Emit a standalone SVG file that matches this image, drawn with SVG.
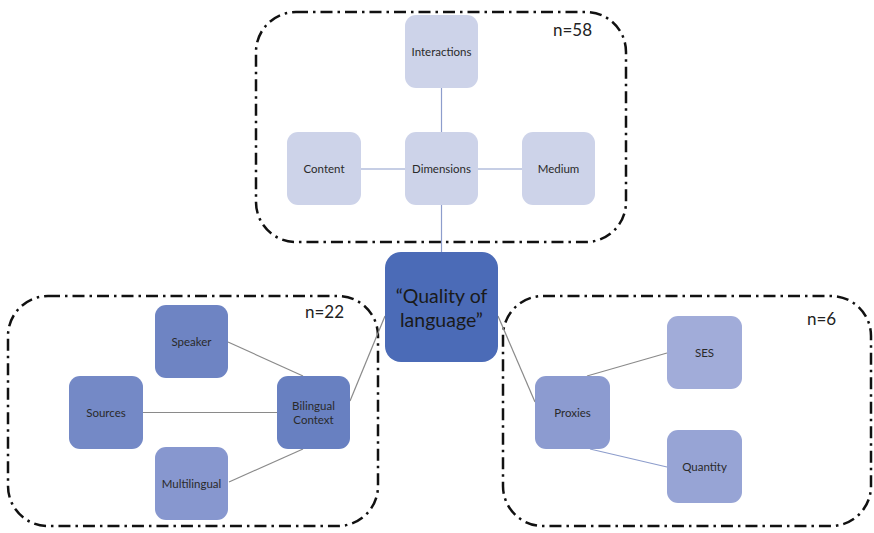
<svg xmlns="http://www.w3.org/2000/svg" width="874" height="533" viewBox="0 0 874 533">
<style>
.grp{fill:none;stroke:#111;stroke-width:2.5;stroke-dasharray:12 5 2.5 5}
.node{stroke:none}
.lbl{font-family:Lato,"Liberation Sans",sans-serif;font-size:11.5px;fill:#2a2a2a;text-anchor:middle}
.n{font-family:Lato,"Liberation Sans",sans-serif;font-size:17px;fill:#222}
.q{font-family:Lato,"Liberation Sans",sans-serif;font-size:19.5px;fill:#1a1a1a;text-anchor:middle}
.c{fill:none;stroke-width:1.2}
.g{stroke:#8a8a8a}
.b{stroke:#8d9dcc}
</style>
<rect width="874" height="533" fill="#fff"/>
<g id="groups">
<rect class="grp" x="256" y="12" width="370" height="230" rx="40"/>
<rect class="grp" x="8" y="296" width="370" height="230" rx="40"/>
<rect class="grp" x="503" y="296" width="368" height="230" rx="40"/>
<text class="n" x="553" y="36">n=58</text>
<text class="n" x="305" y="318">n=22</text>
<text class="n" x="807" y="325">n=6</text>
</g>
<g id="connectors">
<line class="c b" x1="441.5" y1="88" x2="441.5" y2="132"/>
<line class="c b" x1="361" y1="169" x2="405" y2="169"/>
<line class="c b" x1="478" y1="169" x2="522" y2="169"/>
<line class="c b" x1="441.5" y1="205" x2="441.5" y2="252"/>
<line class="c g" x1="228" y1="342" x2="303" y2="376"/>
<line class="c g" x1="143" y1="412.5" x2="277" y2="412.5"/>
<line class="c g" x1="229" y1="482" x2="303" y2="449"/>
<line class="c g" x1="350" y1="401" x2="385" y2="316"/>
<line class="c g" x1="498" y1="316" x2="535" y2="402"/>
<line class="c g" x1="587" y1="376" x2="667" y2="353"/>
<line class="c b" x1="590" y1="449" x2="667" y2="467"/>
</g>
<g id="interactions"><rect class="node" x="405" y="15" width="73" height="73" rx="11" fill="#cdd3e9"/><text class="lbl" x="441.5" y="55.5">Interactions</text></g>
<g id="content"><rect class="node" x="287" y="132" width="74" height="73" rx="11" fill="#cdd3e9"/><text class="lbl" x="324" y="172.5">Content</text></g>
<g id="dimensions"><rect class="node" x="405" y="132" width="73" height="73" rx="11" fill="#cdd3e9"/><text class="lbl" x="441.5" y="172.5">Dimensions</text></g>
<g id="medium"><rect class="node" x="522" y="132" width="73" height="73" rx="11" fill="#cdd3e9"/><text class="lbl" x="558.5" y="172.5">Medium</text></g>
<g id="quality"><rect class="node" x="385" y="252" width="113" height="110" rx="16" fill="#4b6bb7"/><text class="q" x="441.5" y="303">“Quality of</text><text class="q" x="441.5" y="327">language”</text></g>
<g id="speaker"><rect class="node" x="155" y="305" width="73" height="73" rx="11" fill="#6e84c3"/><text class="lbl" x="191.5" y="345.5">Speaker</text></g>
<g id="sources"><rect class="node" x="69" y="376" width="74" height="73" rx="11" fill="#7489c6"/><text class="lbl" x="106" y="416.5">Sources</text></g>
<g id="bilingual"><rect class="node" x="277" y="376" width="73" height="73" rx="11" fill="#6880c1"/><text class="lbl" x="313.5" y="410">Bilingual</text><text class="lbl" x="313.5" y="424">Context</text></g>
<g id="multilingual"><rect class="node" x="155" y="447" width="73" height="73" rx="11" fill="#8797cf"/><text class="lbl" x="191.5" y="487.5">Multilingual</text></g>
<g id="proxies"><rect class="node" x="535" y="376" width="75" height="73" rx="11" fill="#8c9bd0"/><text class="lbl" x="572.5" y="416.5">Proxies</text></g>
<g id="ses"><rect class="node" x="667" y="316" width="75" height="73" rx="11" fill="#a1acd9"/><text class="lbl" x="704.5" y="356.5">SES</text></g>
<g id="quantity"><rect class="node" x="667" y="430" width="75" height="73" rx="11" fill="#97a4d5"/><text class="lbl" x="704.5" y="470.5">Quantity</text></g>
</svg>
